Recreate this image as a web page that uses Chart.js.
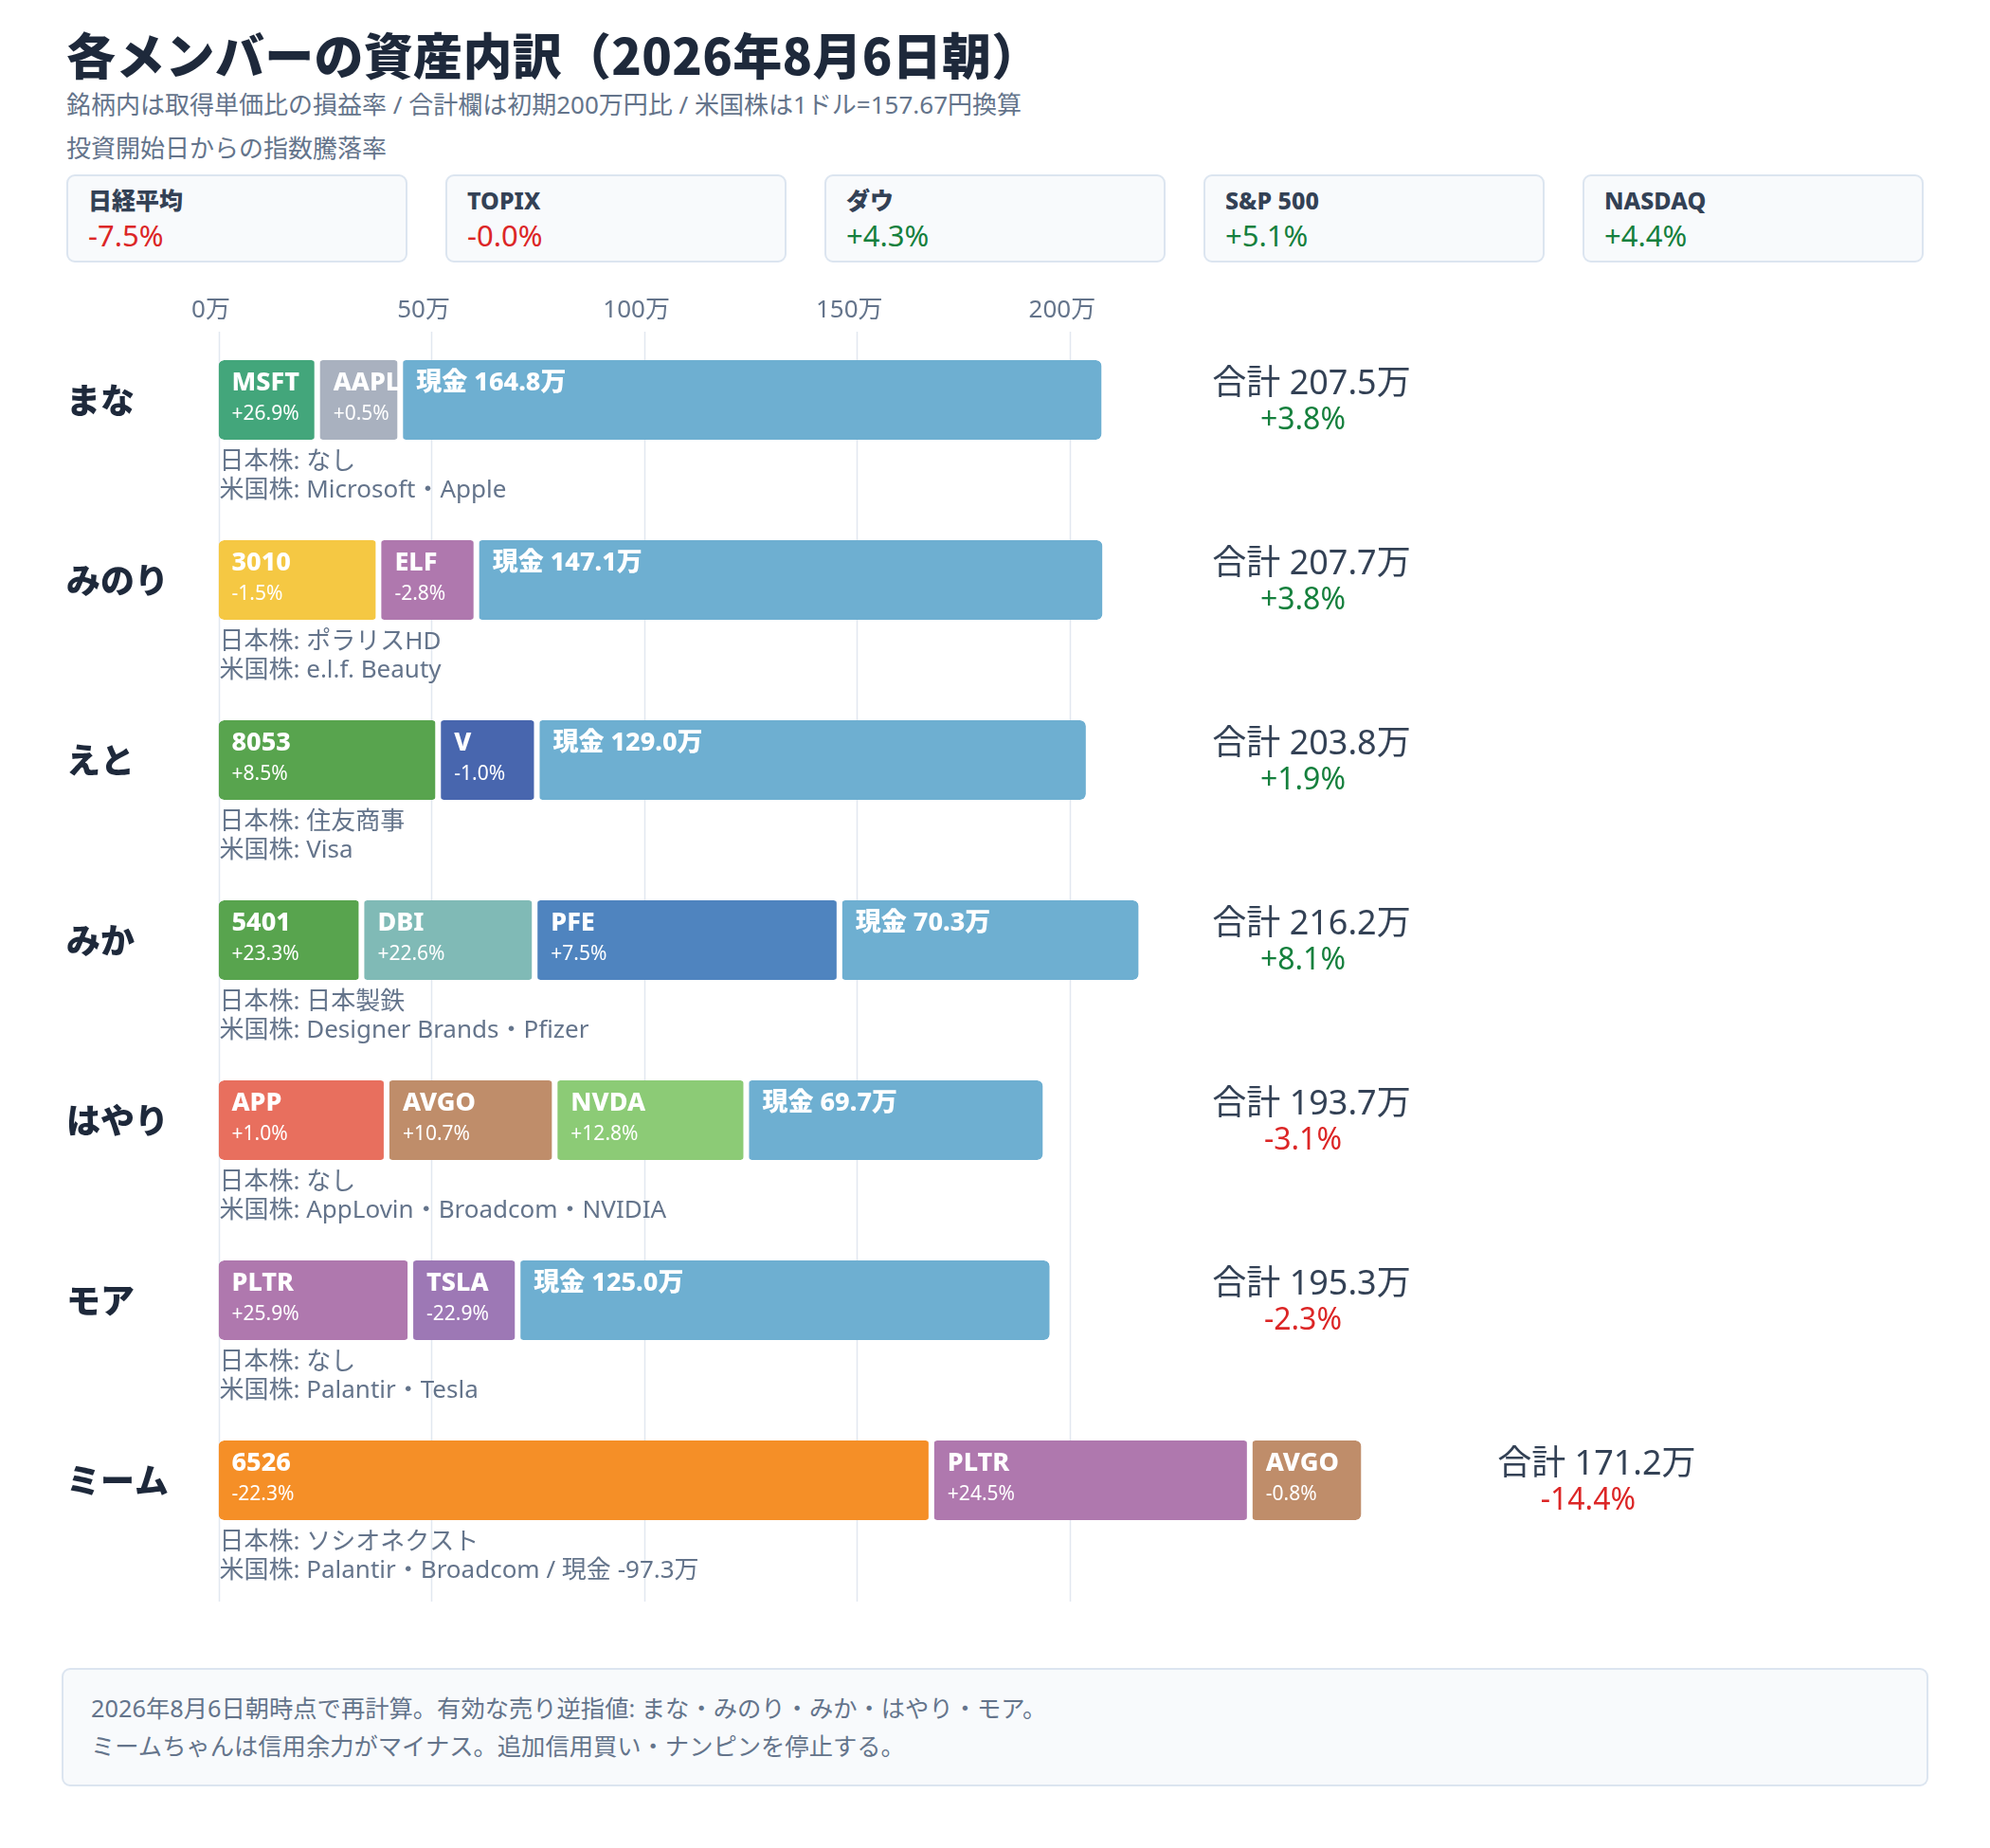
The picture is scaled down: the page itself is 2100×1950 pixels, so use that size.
<!DOCTYPE html>
<html lang="ja">
<head>
<meta charset="utf-8">
<script src="https://cdn.jsdelivr.net/npm/chart.js@4.4.1/dist/chart.umd.min.js"></script>
<style>
  html, body { margin: 0; padding: 0; background: #ffffff; }
  body { width: 2100px; height: 1950px; position: relative; overflow: hidden;
         font-family: "Noto Sans", "Noto Sans CJK JP", sans-serif; }
  .abs { position: absolute; white-space: nowrap; }
  #title { left: 70px; top: 27px; font-size: 52px; line-height: 60px; font-weight: 900; color: #1e293b;
           font-family: "Noto Sans CJK JP", sans-serif; letter-spacing: 0.3px; }
  .sub { left: 70px; font-size: 26px; line-height: 30px; color: #64748b; }
  .card { position: absolute; top: 184px; width: 356px; height: 89px; background: #f8fafc;
          border: 2px solid #dce5f0; border-radius: 9px; }
  .card .lab { position: absolute; left: 21px; top: 10px; font-size: 25px; line-height: 30px; font-weight: 800; color: #334155; }
  .card .val { position: absolute; left: 21px; top: 45px; font-size: 31px; line-height: 35px; }
  #chartBox { position: absolute; left: 0; top: 300px; width: 2100px; height: 1420px; }
  #footer { position: absolute; left: 65px; top: 1760px; width: 1966px; height: 121px; background: #f8fafc;
            border: 2px solid #dce5f0; border-radius: 9px; }
  #footer div { position: absolute; left: 29px; font-size: 25.3px; line-height: 30px; color: #64748b; }
</style>
</head>
<body>
<div id="title" class="abs"></div>
<div id="sub1" class="abs sub" style="top:95px"></div>
<div id="sub2" class="abs sub" style="top:141px"></div>
<div id="cards"></div>
<div id="chartBox"><canvas id="c"></canvas></div>
<div id="footer"><div id="foot1" style="top:25px"></div><div id="foot2" style="top:65px"></div></div>
<script>
// ---------- data ----------
const titleText = '各メンバーの資産内訳（2026年8月6日朝）';
const subtitleText = '銘柄内は取得単価比の損益率 / 合計欄は初期200万円比 / 米国株は1ドル=157.67円換算';
const indexHeading = '投資開始日からの指数騰落率';
const indexNames = ['日経平均', 'TOPIX', 'ダウ', 'S&P 500', 'NASDAQ'];
const indexChangeText = ['-7.5%', '-0.0%', '+4.3%', '+5.1%', '+4.4%'];

const members = ['まな', 'みのり', 'えと', 'みか', 'はやり', 'モア', 'ミーム'];
const stockCodes = [
  ['MSFT', 'AAPL'], ['3010', 'ELF'], ['8053', 'V'], ['5401', 'DBI', 'PFE'],
  ['APP', 'AVGO', 'NVDA'], ['PLTR', 'TSLA'], ['6526', 'PLTR', 'AVGO']
];
const stockValues = [   // 万円
  [23.2, 19.5], [37.6, 23.0], [51.6, 23.2], [33.6, 40.7, 71.6],
  [39.5, 39.5, 45.0], [45.1, 25.2], [167.5, 74.8, 26.2]
];
const stockPnl = [
  ['+26.9%', '+0.5%'], ['-1.5%', '-2.8%'], ['+8.5%', '-1.0%'], ['+23.3%', '+22.6%', '+7.5%'],
  ['+1.0%', '+10.7%', '+12.8%'], ['+25.9%', '-22.9%'], ['-22.3%', '+24.5%', '-0.8%']
];
const stockColors = [
  ['#43a67b', '#a9b1bf'], ['#f5c843', '#af78ae'], ['#58a44e', '#4866ae'], ['#58a44e', '#80bab6', '#4f84bf'],
  ['#e86f5e', '#bf8d6a', '#8ccb76'], ['#af78ae', '#9d78b5'], ['#f58f27', '#af78ae', '#bf8d6a']
];
const cashValues = [164.8, 147.1, 129.0, 70.3, 69.7, 125.0, -97.3];
const cashColor = '#6eafd1';
const totals = [207.5, 207.7, 203.8, 216.2, 193.7, 195.3, 171.2];
const totalPct = ['+3.8%', '+3.8%', '+1.9%', '+8.1%', '-3.1%', '-2.3%', '-14.4%'];
const jpStocks = ['なし', 'ポラリスHD', '住友商事', '日本製鉄', 'なし', 'なし', 'ソシオネクスト'];
const usStocks = ['Microsoft・Apple', 'e.l.f. Beauty', 'Visa', 'Designer Brands・Pfizer',
                  'AppLovin・Broadcom・NVIDIA', 'Palantir・Tesla', 'Palantir・Broadcom'];
const xTicks = [0, 50, 100, 150, 200];
const footerLines = [
  '2026年8月6日朝時点で再計算。有効な売り逆指値: まな・みのり・みか・はやり・モア。',
  'ミームちゃんは信用余力がマイナス。追加信用買い・ナンピンを停止する。'
];

// ---------- header / cards / footer ----------
const GREEN = '#15803d', RED = '#dc2626';
document.getElementById('title').textContent = titleText;
document.getElementById('sub1').textContent = subtitleText;
document.getElementById('sub2').textContent = indexHeading;
const cardsEl = document.getElementById('cards');
indexNames.forEach((n, i) => {
  const d = document.createElement('div');
  d.className = 'card';
  d.style.left = (70 + i * 400) + 'px';
  const neg = indexChangeText[i].startsWith('-');
  d.innerHTML = '<div class="lab"></div><div class="val"></div>';
  d.querySelector('.lab').textContent = n;
  const v = d.querySelector('.val');
  v.textContent = indexChangeText[i];
  v.style.color = neg ? RED : GREEN;
  cardsEl.appendChild(d);
});
document.getElementById('foot1').textContent = footerLines[0];
document.getElementById('foot2').textContent = footerLines[1];

// ---------- segments → stacked datasets ----------
const segs = members.map((m, i) => {
  const s = stockCodes[i].map((code, j) => ({
    label: code, sub: stockPnl[i][j], value: stockValues[i][j], color: stockColors[i][j] }));
  if (cashValues[i] > 0) s.push({ label: '現金 ' + cashValues[i].toFixed(1) + '万', sub: '', value: cashValues[i], color: cashColor });
  return s;
});
const slotCount = Math.max(...segs.map(s => s.length));
const datasets = [];
for (let k = 0; k < slotCount; k++) {
  datasets.push({
    data: segs.map(s => s[k] ? s[k].value : null),
    backgroundColor: segs.map(s => s[k] ? s[k].color : 'rgba(0,0,0,0)'),
    segInfo: segs.map(s => s[k] || null),
    borderColor: 'rgba(0,0,0,0)',
    borderWidth: ctx => {
      const s = segs[ctx.dataIndex] || [];
      return { left: k === 0 ? 0 : 3, right: k === s.length - 1 ? 0 : 3, top: 0, bottom: 0 };
    },
    borderSkipped: false,
    borderRadius: { topLeft: 6, topRight: 6, bottomLeft: 6, bottomRight: 6 },
    inflateAmount: 0,
    barThickness: 84
  });
}

const FONT = '"Noto Sans", "Noto Sans CJK JP", sans-serif';
const posSum = segs.map(s => s.reduce((a, b) => a + b.value, 0));

const gridPlugin = {
  id: 'customGrid',
  beforeDatasetsDraw(chart) {
    const { ctx, chartArea, scales } = chart;
    ctx.save();
    ctx.strokeStyle = '#e2e8f0';
    ctx.lineWidth = 1.5;
    xTicks.forEach(v => {
      const px = Math.round(scales.x.getPixelForValue(v)) + 0.5;
      ctx.beginPath();
      ctx.moveTo(px, chartArea.top + 23);
      ctx.lineTo(px, chartArea.bottom + 33);
      ctx.stroke();
    });
    // axis tick labels (top)
    ctx.fillStyle = '#64748b';
    ctx.font = '400 26px ' + FONT;
    ctx.textAlign = 'center';
    ctx.textBaseline = 'middle';
    xTicks.forEach(v => {
      ctx.fillText(v + '万', scales.x.getPixelForValue(v) - 8, chartArea.top + 1);
    });
    ctx.restore();
  }
};

const labelPlugin = {
  id: 'segLabels',
  afterDatasetsDraw(chart) {
    const { ctx, chartArea, scales } = chart;
    ctx.save();
    ctx.textBaseline = 'middle';
    ctx.textAlign = 'left';
    chart.data.datasets.forEach((ds, k) => {
      const meta = chart.getDatasetMeta(k);
      meta.data.forEach((el, i) => {
        const info = ds.segInfo[i];
        if (!info) return;
        const p = el.getProps(['x', 'y', 'base', 'height'], true);
        const left = Math.min(p.x, p.base) + (k === 0 ? 0 : 3);
        const top = p.y - p.height / 2;
        ctx.fillStyle = '#ffffff';
        ctx.font = '800 27px ' + FONT;
        ctx.fillText(info.label, left + 14, top + 24);
        if (info.sub) {
          ctx.font = '400 21px ' + FONT;
          ctx.fillText(info.sub, left + 14, top + 57);
        }
      });
    });
    // text below bars + totals
    members.forEach((m, i) => {
      const cy = scales.y.getPixelForValue(i);
      const x0 = chartArea.left + 1;
      ctx.fillStyle = '#64748b';
      ctx.font = '400 26px ' + FONT;
      ctx.textAlign = 'left';
      ctx.fillText('日本株: ' + jpStocks[i], x0, cy + 66);
      let us = '米国株: ' + usStocks[i];
      if (cashValues[i] < 0) us += ' / 現金 ' + cashValues[i].toFixed(1) + '万';
      ctx.fillText(us, x0, cy + 96);

      const anchorVal = posSum[i] > 240 ? posSum[i] + 55.3 : 256.8;
      const ax = scales.x.getPixelForValue(anchorVal);
      ctx.textAlign = 'center';
      ctx.fillStyle = '#334155';
      ctx.font = '400 36px ' + FONT;
      ctx.fillText('合計 ' + totals[i].toFixed(1) + '万', ax, cy - 16);
      ctx.fillStyle = totalPct[i].startsWith('-') ? RED : GREEN;
      ctx.font = '400 32px ' + FONT;
      ctx.fillText(totalPct[i], ax - 9, cy + 22);
    });
    ctx.restore();
  }
};

new Chart(document.getElementById('c'), {
  type: 'bar',
  data: { labels: members, datasets },
  options: {
    indexAxis: 'y',
    responsive: true,
    maintainAspectRatio: false,
    animation: false,
    layout: { padding: { left: 70, right: 522, top: 0, bottom: 63 } },
    plugins: { legend: { display: false }, tooltip: { enabled: false } },
    scales: {
      x: {
        type: 'linear', position: 'top', stacked: true, min: 0, max: 300,
        grid: { display: false }, border: { display: false },
        afterBuildTicks: s => { s.ticks = xTicks.map(v => ({ value: v })); },
        afterFit: s => { s.height = 27; },
        ticks: { display: false }
      },
      y: {
        type: 'category', stacked: true,
        grid: { display: false }, border: { display: false },
        afterFit: s => { s.width = 160.5; },
        ticks: { crossAlign: 'far', color: '#1e293b', padding: 0,
                 font: { family: '"Noto Sans CJK JP", sans-serif', size: 36, weight: '900' } }
      }
    }
  },
  plugins: [gridPlugin, labelPlugin]
});
</script>
</body>
</html>
